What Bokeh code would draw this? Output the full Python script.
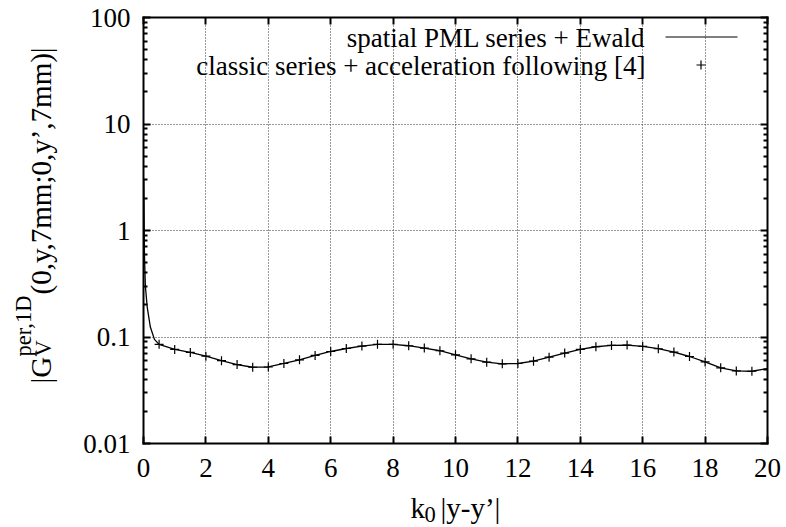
import math
from bokeh.plotting import figure
from bokeh.models import FixedTicker, LinearAxis, LogAxis, Label, PolyAnnotation, Range1d, Grid
from bokeh.embed import file_html
from bokeh.resources import INLINE

FONT = "Liberation Serif"
FS = "27px"
FS_TITLE = "29px"
FS_SMALL = "22.5px"

# ---- axis ticks ----
x_ticks = [0, 2, 4, 6, 8, 10, 12, 14, 16, 18, 20]
x_tick_labels = ["0", "2", "4", "6", "8", "10", "12", "14", "16", "18", "20"]
y_ticks = [0.01, 0.1, 1, 10, 100]
y_tick_labels = ["0.01", "0.1", "1", "10", "100"]
x_lim = (0, 20)
y_lim = (0.01, 100)

# ---- series 1: spatial PML series + Ewald (solid line) ----
line_x = [0.01, 0.03, 0.06, 0.12, 0.22, 0.35,
          0.5, 1.0, 1.5, 2.0, 2.5, 3.0, 3.5, 4.0, 4.5, 5.0,
          5.5, 6.0, 6.5, 7.0, 7.5, 8.0, 8.5, 9.0, 9.5, 10.0,
          10.5, 11.0, 11.5, 12.0, 12.5, 13.0, 13.5, 14.0, 14.5, 15.0,
          15.5, 16.0, 16.5, 17.0, 17.5, 18.0, 18.5, 19.0, 19.5, 20.0]
line_y = [3.0, 0.6, 0.3, 0.19, 0.124, 0.095,
          0.0853, 0.0764, 0.0716, 0.066, 0.060, 0.0551, 0.052, 0.0523, 0.0564, 0.061,
          0.0671, 0.0731, 0.078, 0.0822, 0.0853, 0.0853, 0.0828, 0.0787, 0.0743, 0.068,
          0.0624, 0.058, 0.056, 0.0564, 0.0593, 0.0647, 0.0706, 0.0764, 0.081, 0.0834,
          0.084, 0.0816, 0.0776, 0.0722, 0.0656, 0.0584, 0.0513, 0.048, 0.0477, 0.0505]

# ---- series 2: classic series + acceleration (+ markers) ----
marker_x = [0.5, 1.0, 1.5, 2.0, 2.5, 3.0, 3.5, 4.0, 4.5, 5.0,
            5.5, 6.0, 6.5, 7.0, 7.5, 8.0, 8.5, 9.0, 9.5, 10.0,
            10.5, 11.0, 11.5, 12.0, 12.5, 13.0, 13.5, 14.0, 14.5, 15.0,
            15.5, 16.0, 16.5, 17.0, 17.5, 18.0, 18.5, 19.0, 19.5]
marker_y = [0.0853, 0.0764, 0.0716, 0.066, 0.060, 0.0551, 0.052, 0.0523, 0.0564, 0.061,
            0.0671, 0.0731, 0.078, 0.0822, 0.0853, 0.0853, 0.0828, 0.0787, 0.0743, 0.068,
            0.0624, 0.058, 0.056, 0.0564, 0.0593, 0.0647, 0.0706, 0.0764, 0.081, 0.0834,
            0.084, 0.0816, 0.0776, 0.0722, 0.0656, 0.0584, 0.0513, 0.048, 0.0477]

series_labels = ["spatial PML series + Ewald",
                 "classic series + acceleration following [4]"]

# ---- page geometry (pixels) : the frame fills the canvas, the plot box sits inside ----
W, H = 786, 527
BOX_L, BOX_R, BOX_T, BOX_B = 143, 767, 17, 443
px_x = (BOX_R - BOX_L) / (x_lim[1] - x_lim[0])
px_dec = (BOX_B - BOX_T) / (math.log10(y_lim[1]) - math.log10(y_lim[0]))
xr = Range1d(x_lim[0] - BOX_L / px_x, x_lim[1] + (W - BOX_R) / px_x)
yr = Range1d(y_lim[0] / 10 ** ((H - BOX_B) / px_dec), y_lim[1] * 10 ** (BOX_T / px_dec))

p = figure(width=W, height=H, x_range=xr, y_range=yr,
           y_axis_type="log", output_backend="svg", toolbar_location=None,
           min_border_left=0, min_border_right=0, min_border_top=0, min_border_bottom=0)
p.outline_line_color = None
p.background_fill_color = "white"
p.border_fill_color = "white"

xticker = FixedTicker(ticks=x_ticks)
minor_y = [k * 10.0 ** e for e in range(-2, 2) for k in range(2, 10)]
yticker = FixedTicker(ticks=y_ticks, minor_ticks=minor_y)

def style_axis(ax, labels=True):
    ax.axis_line_width = 2
    ax.axis_line_color = "black"
    ax.axis_line_cap = "square"
    ax.major_tick_in = 7
    ax.major_tick_out = 0
    ax.minor_tick_in = 4
    ax.minor_tick_out = 0
    ax.major_tick_line_width = 2
    ax.minor_tick_line_width = 2
    ax.major_label_text_font = FONT
    if labels:
        ax.major_label_text_font_size = FS
        ax.major_label_text_color = "black"
    else:
        ax.major_label_text_font_size = "1px"
        ax.major_label_text_color = None
        ax.major_label_standoff = 0

xa = p.xaxis[0]
xa.ticker = xticker
xa.major_label_overrides = {t: s for t, s in zip(x_ticks, x_tick_labels)}
style_axis(xa)
xa.minor_tick_line_color = None
xa.major_label_standoff = 15
xa.fixed_location = y_lim[0]
xa.bounds = x_lim

ya = p.yaxis[0]
ya.ticker = yticker
ya.major_label_overrides = {t: s for t, s in zip(y_ticks, y_tick_labels)}
style_axis(ya)
ya.major_label_standoff = 13
ya.fixed_location = x_lim[0]
ya.bounds = y_lim

top = LinearAxis(ticker=xticker, fixed_location=y_lim[1], bounds=x_lim)
style_axis(top, labels=False)
top.minor_tick_line_color = None
p.add_layout(top, "above")

right = LogAxis(ticker=yticker, fixed_location=x_lim[1], bounds=y_lim)
style_axis(right, labels=False)
p.add_layout(right, "right")

p.xgrid.ticker = xticker
p.ygrid.ticker = FixedTicker(ticks=y_ticks)
has_cross = "cross_bounds" in Grid.properties()
for g, cb in ((p.xgrid, y_lim), (p.ygrid, x_lim)):
    g.grid_line_color = "#333333"
    g.grid_line_dash = "1 2"
    g.grid_line_width = 1
    if has_cross:
        g.cross_bounds = cb
    else:
        g.visible = False
if not has_cross:
    p.segment(x0=x_ticks, y0=[y_lim[0]] * len(x_ticks), x1=x_ticks, y1=[y_lim[1]] * len(x_ticks),
              line_color="#333333", line_dash="1 2", line_width=1)
    p.segment(x0=[x_lim[0]] * len(y_ticks), y0=y_ticks, x1=[x_lim[1]] * len(y_ticks), y1=y_ticks,
              line_color="#333333", line_dash="1 2", line_width=1)

p.line(line_x, line_y, line_color="black", line_width=1.3)
p.scatter(marker_x, marker_y, marker="cross", size=9, line_color="black", line_width=1.2)

def lab(text, x, y, size=FS, align="left", angle=0.0):
    # x, y : page pixels of the anchor (top-left origin)
    return Label(x=x, y=H - y, x_units="screen", y_units="screen", text=text,
                 text_font=FONT, text_font_size=size, text_color="black",
                 text_align=align, text_baseline="alphabetic", angle=angle)

def seg(xs, ys, w):
    return PolyAnnotation(xs=xs, ys=[H - v for v in ys], xs_units="screen", ys_units="screen",
                          fill_alpha=0, line_color="black", line_alpha=1.0, line_width=w)

# ---- legend (gnuplot style: text right-aligned, sample to the right) ----
p.add_layout(lab(series_labels[0], 645, 37, align="right"))
p.add_layout(lab(series_labels[1], 645, 65, align="right"))
p.add_layout(seg([665, 737], [36.5, 36.5], 1.2))
p.add_layout(seg([696, 705], [64.5, 64.5], 1.2))
p.add_layout(seg([700.5, 700.5], [60, 69], 1.2))

# ---- y axis title with super/subscripts ----
A = math.pi / 2
p.add_layout(lab("|G", 40, 383, size=FS_TITLE, angle=A))
p.add_layout(lab("per,1D", 23, 356, size=FS_SMALL, angle=A))
p.add_layout(lab("V", 43, 356, size=FS_SMALL, angle=A))
p.add_layout(lab("(0,y,7mm;0,y\u2019,7mm)|", 40, 294, size=FS_TITLE, angle=A))

# ---- x axis title ----
p.add_layout(lab("k", 410, 507, size=FS_TITLE))
p.add_layout(lab("0", 424, 514, size=FS_SMALL))
p.add_layout(lab("|y-y\u2019|", 440, 507, size=FS_TITLE))

open("out.html", "w").write(file_html(p, INLINE))
